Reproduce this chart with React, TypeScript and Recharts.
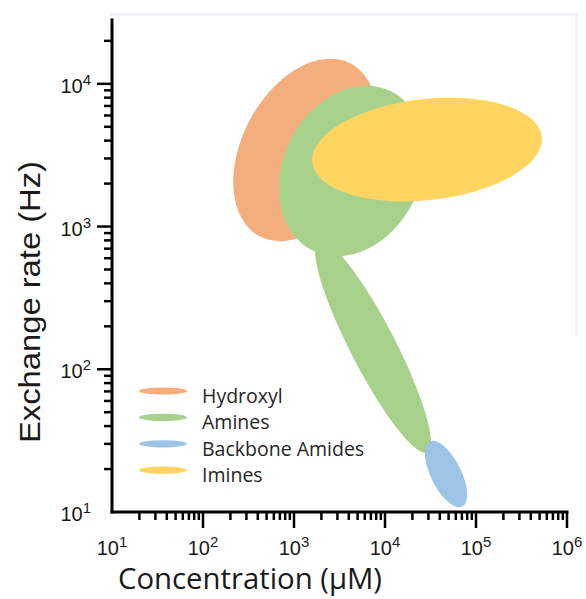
import React from 'react';
import { ScatterChart, XAxis, YAxis, ReferenceArea, Legend } from 'recharts';

// ---- data (concentration in µM, exchange rate in Hz) ----
const blobGroups = ['Hydroxyl', 'Amines', 'Amines', 'Backbone Amides', 'Imines'];
const concLow = [215, 680, 1700, 27500, 1580];
const concHigh = [8200, 27500, 32000, 80000, 530000];
const rateLow = [790, 620, 26, 10.8, 1500];
const rateHigh = [15000, 9700, 800, 31.5, 8000];
// correlation between log-concentration and log-rate inside each region
const blobTilt = [0.35, 0.2, -0.9, -0.62, 0.2];

const legendNames = ['Hydroxyl', 'Amines', 'Backbone Amides', 'Imines'];
const groupColors: Record<string, string> = {
  Hydroxyl: '#F4AE7E',
  Amines: '#A7D08B',
  'Backbone Amides': '#9DC3E6',
  Imines: '#FFD560',
};

const decades = [10, 100, 1000, 10000, 100000, 1000000];
const multipliers = [1, 2, 3, 4, 5, 6, 7, 8, 9];
const xDomain = [10, 1000000];
const yDomain = [10, 28000];
const xTicks = decades.flatMap((d) => multipliers.map((m) => d * m)).filter((v) => v <= xDomain[1]);
const yTicks = decades.flatMap((d) => multipliers.map((m) => d * m)).filter((v) => v <= yDomain[1]);

const xTitle = 'Concentration (\u03BCM)';
const yTitle = 'Exchange rate (Hz)';

const TICK_FONT = "'Liberation Sans', Arial, sans-serif";
const SANS = "'Open Sans', 'Noto Sans', sans-serif";

const isMajor = (v: number) => {
  const l = Math.log10(v);
  return Math.abs(l - Math.round(l)) < 1e-9;
};

const Blob = (props: any) => {
  const { x, y, width, height, rho, fill } = props;
  if (![x, y, width, height].every((n) => Number.isFinite(n))) return <g />;
  const cx = x + width / 2;
  const cy = y + height / 2;
  const hx = width / 2;
  const hy = height / 2;
  const r = -rho; // screen y points down
  const a = hx * hx;
  const b = hy * hy;
  const c = r * hx * hy;
  const mean = (a + b) / 2;
  const diff = Math.sqrt(((a - b) / 2) ** 2 + c * c);
  const rx = Math.sqrt(mean + diff);
  const ry = Math.sqrt(Math.max(mean - diff, 0));
  const ang = (0.5 * Math.atan2(2 * c, a - b) * 180) / Math.PI;
  return <ellipse cx={cx} cy={cy} rx={rx} ry={ry} transform={`rotate(${ang} ${cx} ${cy})`} fill={fill} />;
};

const XTick = (props: any) => {
  const { x, y, payload } = props;
  const v = payload.value;
  const major = isMajor(v);
  const exp = Math.round(Math.log10(v));
  return (
    <g>
      {v !== xDomain[0] && (
        <line x1={x} y1={y} x2={x} y2={y + (major ? 16 : 8)} stroke="#000" strokeWidth={2.5} />
      )}
      {major && (
        <text x={x} y={y + 43} textAnchor="middle" fontFamily={TICK_FONT} fontSize={20} fill="#1a1a1a">
          10
          <tspan dy={-8} fontSize={15}>
            {exp}
          </tspan>
        </text>
      )}
    </g>
  );
};

const YTick = (props: any) => {
  const { x, y, payload } = props;
  const v = payload.value;
  const major = isMajor(v);
  const exp = Math.round(Math.log10(v));
  return (
    <g>
      {v !== yDomain[0] && (
        <line x1={x} y1={y} x2={x - (major ? 15 : 8)} y2={y} stroke="#000" strokeWidth={2.5} />
      )}
      {major && (
        <text x={x - 21} y={y + 9} textAnchor="end" fontFamily={TICK_FONT} fontSize={20} fill="#1a1a1a">
          10
          <tspan dy={-8} fontSize={15}>
            {exp}
          </tspan>
        </text>
      )}
    </g>
  );
};

const XTitle = (props: any) => {
  const vb = props.viewBox || { x: 112, y: 512 };
  return (
    <text
      x={vb.x + 138}
      y={vb.y + 77}
      textAnchor="middle"
      fontFamily={SANS}
      fontSize={29}
      fill="#1a1a1a"
      textLength={264}
      lengthAdjust="spacingAndGlyphs"
    >
      {xTitle}
    </text>
  );
};

const YTitle = (props: any) => {
  const vb = props.viewBox || { x: 42, y: 20, height: 492 };
  const tx = vb.x - 2;
  const ty = vb.y + vb.height / 2 + 36;
  return (
    <text
      x={tx}
      y={ty}
      transform={`rotate(-90 ${tx} ${ty})`}
      textAnchor="middle"
      fontFamily={TICK_FONT}
      fontSize={29}
      fill="#1a1a1a"
      textLength={282}
      lengthAdjust="spacingAndGlyphs"
    >
      {yTitle}
    </text>
  );
};

const LegendBox = () => (
  <svg width={260} height={110} style={{ display: 'block', overflow: 'visible' }}>
    {legendNames.map((name, i) => (
      <g key={name}>
        <ellipse cx={33} cy={13 + i * 26.4} rx={24} ry={3.6} fill={groupColors[name]} />
        <text x={72} y={25 + i * 26.4} fontFamily={SANS} fontSize={19.5} fill="#262626">
          {name}
        </text>
      </g>
    ))}
  </svg>
);

export default function App() {
  return (
    <div style={{ position: 'absolute', left: 0, top: 0, width: 586, height: 599, background: '#fff' }}>
      <div
        style={{
          position: 'absolute',
          left: 110,
          top: 13,
          width: 465,
          height: 320,
          borderTop: '3px solid #f1f3f6',
          borderRight: '3px solid #f1f3f6',
        }}
      />
      <ScatterChart width={586} height={599} margin={{ top: 20, right: 19, bottom: 27, left: 42 }}>
        <XAxis
          type="number"
          dataKey="x"
          scale="log"
          domain={xDomain}
          ticks={xTicks}
          interval={0}
          allowDataOverflow
          height={60}
          tickSize={0}
          tickMargin={0}
          tickLine={false}
          axisLine={{ stroke: '#000', strokeWidth: 3, strokeLinecap: 'square' }}
          tick={<XTick />}
          label={<XTitle />}
        />
        <YAxis
          type="number"
          dataKey="y"
          scale="log"
          domain={yDomain}
          ticks={yTicks}
          interval={0}
          allowDataOverflow
          width={70}
          tickSize={0}
          tickMargin={0}
          tickLine={false}
          axisLine={{ stroke: '#000', strokeWidth: 3, strokeLinecap: 'square' }}
          tick={<YTick />}
          label={<YTitle />}
        />
        {blobGroups.map((g, i) => (
          <ReferenceArea
            key={`${g}-${i}`}
            x1={concLow[i]}
            x2={concHigh[i]}
            y1={rateLow[i]}
            y2={rateHigh[i]}
            ifOverflow="visible"
            shape={(p: any) => <Blob {...p} rho={blobTilt[i]} fill={groupColors[g]} />}
          />
        ))}
        <Legend
          layout="horizontal"
          verticalAlign="middle"
          align="center"
          wrapperStyle={{ position: 'absolute', left: 130, top: 378, width: 260, height: 110 }}
          content={() => <LegendBox />}
        />
      </ScatterChart>
    </div>
  );
}
